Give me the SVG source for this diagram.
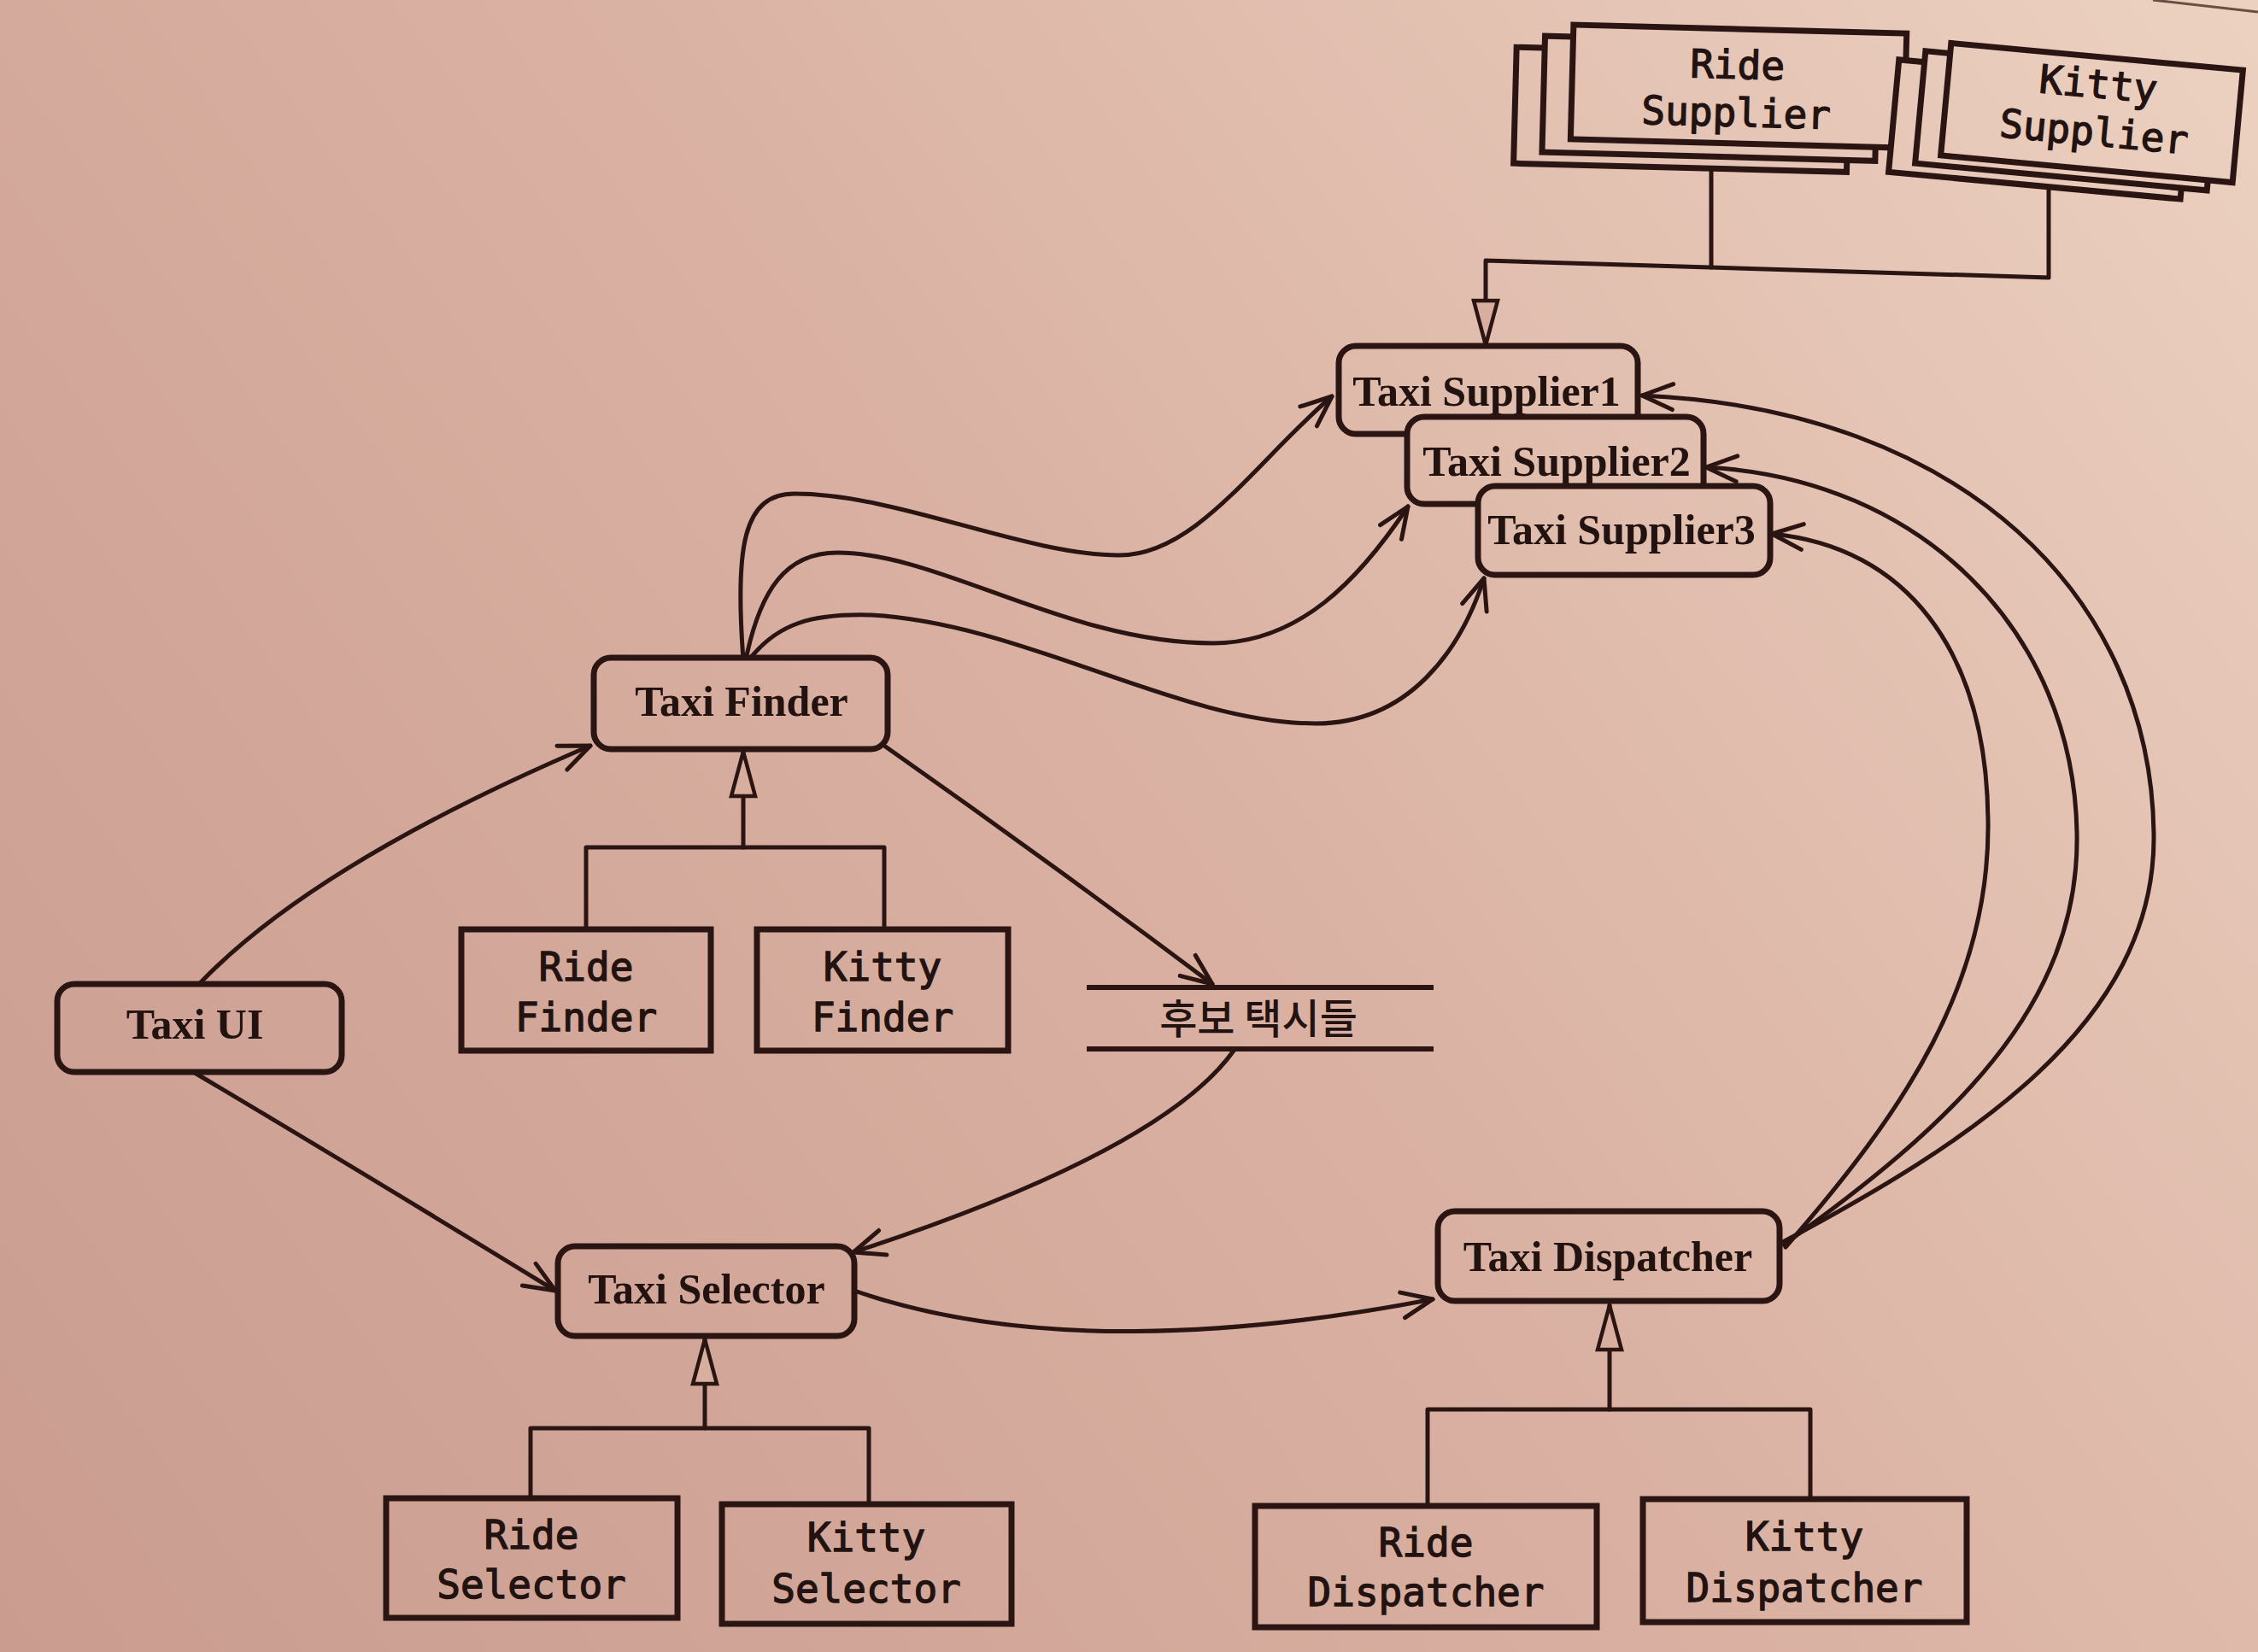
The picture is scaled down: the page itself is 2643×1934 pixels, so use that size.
<svg xmlns="http://www.w3.org/2000/svg" width="2643" height="1934" viewBox="0 0 2643 1934">
  <defs>
    <linearGradient id="bg" gradientUnits="userSpaceOnUse" x1="0" y1="1934" x2="2643" y2="0">
      <stop offset="0" stop-color="#c99c8f"/>
      <stop offset="0.5" stop-color="#d9b0a1"/>
      <stop offset="1" stop-color="#ecd1c1"/>
    </linearGradient>
    <marker id="arrow" markerUnits="userSpaceOnUse" markerWidth="60" markerHeight="60" refX="38" refY="17" orient="auto" overflow="visible">
      <path d="M2,2 L38,17 L2,32" fill="none" stroke="#2a1512" stroke-width="5" stroke-linecap="round" stroke-linejoin="round"/>
    </marker>
    <marker id="tri" markerUnits="userSpaceOnUse" markerWidth="70" markerHeight="70" refX="54" refY="16" orient="auto" overflow="visible">
      <path d="M2,2 L54,16 L2,30 Z" fill="#d8ae9f" stroke="#2a1512" stroke-width="4.5" stroke-linejoin="miter"/>
    </marker>
  </defs>
  <style>
    .rbox { fill: url(#bg); stroke: #2a1512; stroke-width: 7; }
    .sbox { fill: url(#bg); stroke: #2a1512; stroke-width: 7; }
    .serif { font-family: "Liberation Serif", "DejaVu Serif", serif; font-weight: bold; font-size: 50px; fill: #221210; text-anchor: middle; }
    .mono { font-family: "DejaVu Sans Mono", "Liberation Mono", monospace; font-size: 46px; fill: #221210; stroke: #221210; stroke-width: 1.3; text-anchor: middle; }
    .ko { font-family: "Noto Sans CJK KR", "Noto Sans", sans-serif; font-size: 48px; font-weight: 500; fill: #221210; text-anchor: middle; }
    .edge { fill: none; stroke: #2a1512; stroke-width: 5; stroke-linecap: round; stroke-linejoin: round; }
    .arr { marker-end: url(#arrow); }
    .inh { marker-end: url(#tri); }
  </style>

  <rect x="0" y="0" width="2643" height="1934" fill="url(#bg)"/>
  <path d="M2520,0 L2643,14" stroke="#6e4c42" stroke-width="3" fill="none"/>

  <g id="connectors">
    <!-- supplier hierarchy -->
    <path class="edge" d="M2003,190 L2003,313"/>
    <path class="edge inh" d="M2398,210 L2398,325 L1739,305 L1739,404"/>
    <!-- inheritance -->
    <path class="edge" d="M686,1088 V992 H1035 V1088"/>
    <path class="edge inh" d="M870,992 V880"/>
    <path class="edge" d="M621,1753 V1672 H1017 V1760"/>
    <path class="edge inh" d="M825,1672 V1568"/>
    <path class="edge" d="M1671,1763 V1650 H2119 V1755"/>
    <path class="edge inh" d="M1884,1650 V1528"/>
    <!-- associations -->
    <path class="edge arr" d="M235,1150 Q370,1010 691,873"/>
    <path class="edge arr" d="M228,1256 Q420,1370 650,1511"/>
    <path class="edge arr" d="M1035,873 Q1230,1010 1419,1152"/>
    <path class="edge arr" d="M1444,1230 C1380,1320 1200,1400 999,1466"/>
    <path class="edge arr" d="M1003,1512 C1200,1580 1450,1565 1677,1521"/>
    <path class="edge arr" d="M870,772 C860,640 870,578 930,578 C1050,578 1200,650 1310,650 C1400,650 1470,540 1559,464"/>
    <path class="edge arr" d="M873,772 C890,690 920,647 980,647 C1100,647 1250,753 1420,753 C1520,753 1590,680 1648,593"/>
    <path class="edge arr" d="M877,772 C910,730 950,718 1020,720 C1200,730 1380,847 1540,847 C1650,847 1710,760 1737,677"/>
    <path class="edge arr" d="M2085,1455 C2300,1340 2525,1200 2521,975 C2517,700 2300,480 1922,463"/>
    <path class="edge arr" d="M2088,1457 C2280,1320 2435,1180 2431,975 C2427,740 2250,560 1997,547"/>
    <path class="edge arr" d="M2090,1460 C2230,1300 2330,1150 2327,960 C2325,760 2230,640 2074,625"/>
  </g>

  <g id="ride-supplier" transform="rotate(1.5 2032 103)">
    <rect class="sbox" x="1774" y="62" width="390" height="136"/>
    <rect class="sbox" x="1807" y="48" width="390" height="136"/>
    <rect class="sbox" x="1840" y="34" width="390" height="134"/>
    <text class="mono" x="2033" y="92">Ride</text>
    <text class="mono" x="2033" y="148">Supplier</text>
  </g>

  <g id="kitty-supplier" transform="rotate(5.3 2448 132)">
    <rect class="sbox" x="2218" y="91" width="343" height="132"/>
    <rect class="sbox" x="2248" y="78" width="343" height="132"/>
    <rect class="sbox" x="2277" y="66" width="343" height="132"/>
    <text class="mono" x="2453" y="114">Kitty</text>
    <text class="mono" x="2453" y="170">Supplier</text>
  </g>

  <g id="taxi-supplier1">
    <rect class="rbox" x="1567" y="405" width="350" height="103" rx="20"/>
    <text class="serif" x="1740" y="475">Taxi Supplier1</text>
  </g>
  <g id="taxi-supplier2">
    <rect class="rbox" x="1647" y="488" width="347" height="102" rx="20"/>
    <text class="serif" x="1822" y="557">Taxi Supplier2</text>
  </g>
  <g id="taxi-supplier3">
    <rect class="rbox" x="1730" y="569" width="342" height="104" rx="20"/>
    <text class="serif" x="1898" y="637">Taxi Supplier3</text>
  </g>

  <g id="taxi-finder">
    <rect class="rbox" x="695" y="770" width="344" height="107" rx="20"/>
    <text class="serif" x="868" y="838">Taxi Finder</text>
  </g>
  <g id="ride-finder">
    <rect class="sbox" x="540" y="1088" width="292" height="142"/>
    <text class="mono" x="686" y="1148">Ride</text>
    <text class="mono" x="686" y="1207">Finder</text>
  </g>
  <g id="kitty-finder">
    <rect class="sbox" x="886" y="1088" width="294" height="142"/>
    <text class="mono" x="1033" y="1148">Kitty</text>
    <text class="mono" x="1033" y="1207">Finder</text>
  </g>

  <g id="taxi-ui">
    <rect class="rbox" x="67" y="1152" width="333" height="103" rx="20"/>
    <text class="serif" x="228" y="1216">Taxi UI</text>
  </g>

  <g id="candidate-taxis">
    <line x1="1272" y1="1156" x2="1678" y2="1156" stroke="#2a1512" stroke-width="6"/>
    <line x1="1272" y1="1228" x2="1678" y2="1228" stroke="#2a1512" stroke-width="6"/>
    <text class="ko" x="1473" y="1210">후보 택시들</text>
  </g>

  <g id="taxi-selector">
    <rect class="rbox" x="653" y="1459" width="347" height="105" rx="20"/>
    <text class="serif" x="827" y="1526">Taxi Selector</text>
  </g>
  <g id="ride-selector">
    <rect class="sbox" x="452" y="1754" width="341" height="140"/>
    <text class="mono" x="622" y="1813">Ride</text>
    <text class="mono" x="622" y="1871">Selector</text>
  </g>
  <g id="kitty-selector">
    <rect class="sbox" x="845" y="1761" width="339" height="140"/>
    <text class="mono" x="1014" y="1816">Kitty</text>
    <text class="mono" x="1014" y="1876">Selector</text>
  </g>

  <g id="taxi-dispatcher">
    <rect class="rbox" x="1683" y="1418" width="400" height="105" rx="20"/>
    <text class="serif" x="1882" y="1488">Taxi Dispatcher</text>
  </g>
  <g id="ride-dispatcher">
    <rect class="sbox" x="1469" y="1763" width="400" height="142"/>
    <text class="mono" x="1669" y="1822">Ride</text>
    <text class="mono" x="1669" y="1880">Dispatcher</text>
  </g>
  <g id="kitty-dispatcher">
    <rect class="sbox" x="1923" y="1755" width="379" height="144"/>
    <text class="mono" x="2112" y="1815">Kitty</text>
    <text class="mono" x="2112" y="1875">Dispatcher</text>
  </g>
</svg>
